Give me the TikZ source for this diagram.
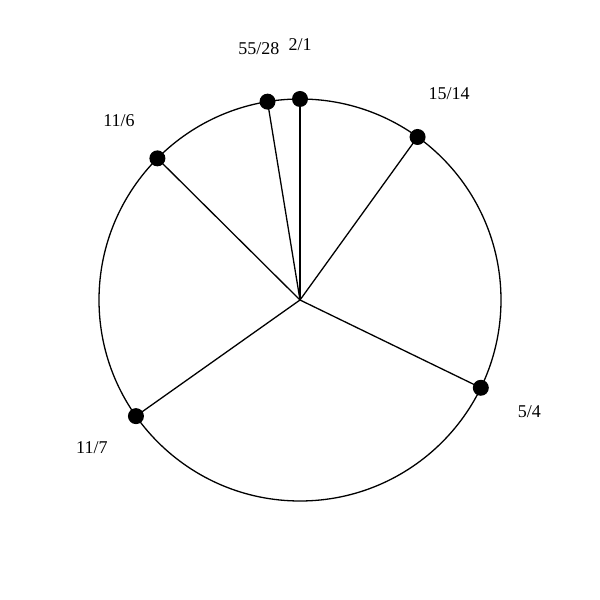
\documentclass[tikz,border=0pt]{standalone}
\usepackage{fontspec}
\setmainfont{Liberation Serif}
\usetikzlibrary{calc}
\begin{document}
\begin{tikzpicture}[x=1pt,y=1pt,
  dot/.style={circle,fill=black,inner sep=0pt,minimum size=16pt},
  lbl/.style={inner sep=0pt,font=\fontsize{18}{21}\selectfont},
  spoke/.style={line width=1.3pt}]
\useasboundingbox (0,0) rectangle (600,600);
\coordinate (c) at (300,300);
\draw[line width=1.3pt] (c) circle (201);
\foreach \n/\a/\t in {a/90/{2/1}, b/99.3/{55/28}, g/54.2/{15/14}, d/135.2/{11/6}, e/-25.9/{5/4}, f/215.3/{11/7}}{
  \coordinate (p\n) at ($(c)+(\a:201)$);
  \draw[spoke] (c) -- (p\n);
  \node[dot] (d\n) at (p\n) {};
  \node[lbl] (l\n) at ($(c)+(\a:255)$) {\t};
}
\end{tikzpicture}
\end{document}
